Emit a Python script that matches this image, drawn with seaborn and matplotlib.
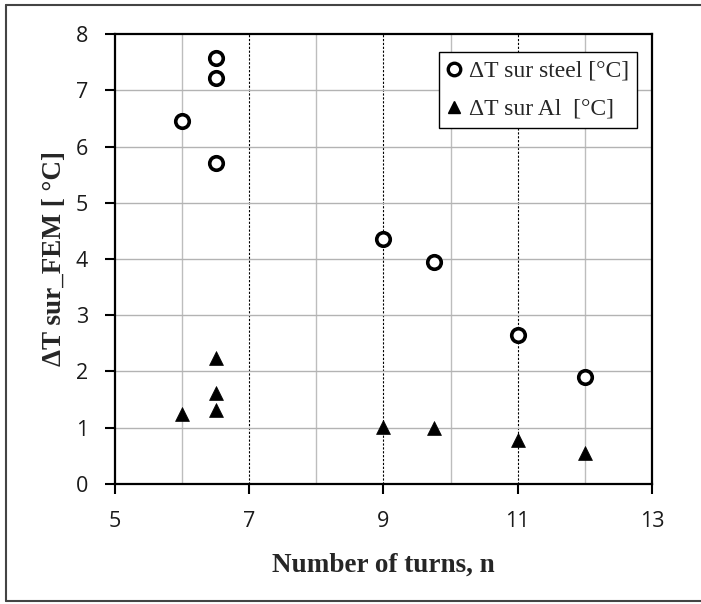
import numpy as np
import pandas as pd
import matplotlib
matplotlib.use("Agg")
import matplotlib.pyplot as plt
from matplotlib.lines import Line2D
import seaborn as sns

# Number of turns and temperature rise for each configuration
turns = [6, 6.5, 6.5, 6.5, 9, 9.75, 11, 12]
dt_steel = [6.46, 7.58, 7.21, 5.71, 4.36, 3.95, 2.65, 1.91]
dt_al = [1.24, 2.24, 1.62, 1.32, 1.02, 1.00, 0.78, 0.55]

x_ticks = [5, 7, 9, 11, 13]
y_ticks = [0, 1, 2, 3, 4, 5, 6, 7, 8]

label_steel = "ΔT sur steel [°C]"
label_al = "ΔT sur Al  [°C]"
x_label = "Number of turns, n"
y_label = "ΔT sur_FEM [ °C]"

df_steel = pd.DataFrame({"n": turns, "dT": dt_steel})
df_al = pd.DataFrame({"n": turns, "dT": dt_al})

sns.set_style("white")
plt.rcParams["font.family"] = ["Liberation Serif", "DejaVu Serif"]

fig = plt.figure(figsize=(7.01, 6.04), dpi=100)
ax = fig.add_axes([0.164, 0.1987, 0.766, 0.745])

# background grid: gray at every unit, dashed black at the odd major ticks
for xv in [6, 8, 10, 12]:
    ax.axvline(xv, color="#bdbdbd", lw=1.0, zorder=0)
for xv in [7, 9, 11]:
    ax.axvline(xv, color="black", lw=0.8, ls=(0, (2, 1.5)), zorder=0)
for yv in y_ticks[1:-1]:
    ax.axhline(yv, color="#b3b3b3", lw=1.0, zorder=0)

sns.scatterplot(data=df_steel, x="n", y="dT", ax=ax, marker="o", s=95,
                facecolor="white", edgecolor="black", linewidth=2.6,
                zorder=3, label=label_steel)
sns.scatterplot(data=df_al, x="n", y="dT", ax=ax, marker="^", s=100,
                color="black", edgecolor="black", linewidth=0.5,
                zorder=3, label=label_al)

ax.set_xlim(5, 13)
ax.set_ylim(0, 8)
ax.set_xticks(x_ticks)
ax.set_yticks(y_ticks)
ax.tick_params(axis="both", direction="out", length=7.5, width=1.5,
               color="black", labelsize=15.5, pad=12,
               left=True, bottom=True)
for lab in ax.get_xticklabels() + ax.get_yticklabels():
    lab.set_family(["Open Sans", "DejaVu Sans"])
    lab.set_color("#1a1a1a")

for sp in ax.spines.values():
    sp.set_visible(True)
    sp.set_color("black")
    sp.set_linewidth(1.6)

ax.set_xlabel(x_label, fontsize=19.5, fontweight="bold", labelpad=15)
ax.set_ylabel(y_label, fontsize=19.5, fontweight="bold", labelpad=6)

handles = [
    Line2D([], [], marker="o", ls="none", markersize=9, markerfacecolor="white",
           markeredgecolor="black", markeredgewidth=2.4),
    Line2D([], [], marker="^", ls="none", markersize=9, color="black"),
]
leg = ax.legend(handles, [label_steel, label_al], loc="upper right",
                bbox_to_anchor=(0.972, 0.96), fontsize=17, frameon=True,
                fancybox=False, edgecolor="black", framealpha=1,
                handlelength=0.6, handletextpad=0.3, borderpad=0.35,
                labelspacing=0.7, borderaxespad=0)
leg.get_frame().set_linewidth(1.0)

# outer frame around the figure
for xs, ys in [((6, 6), (5, 601)), ((6, 701), (5, 5)), ((6, 701), (601, 601))]:
    fig.add_artist(Line2D([x / 701 for x in xs], [1 - y / 604 for y in ys],
                          color="#444444", lw=1.5, transform=fig.transFigure))

fig.savefig("out.png", dpi=100)
